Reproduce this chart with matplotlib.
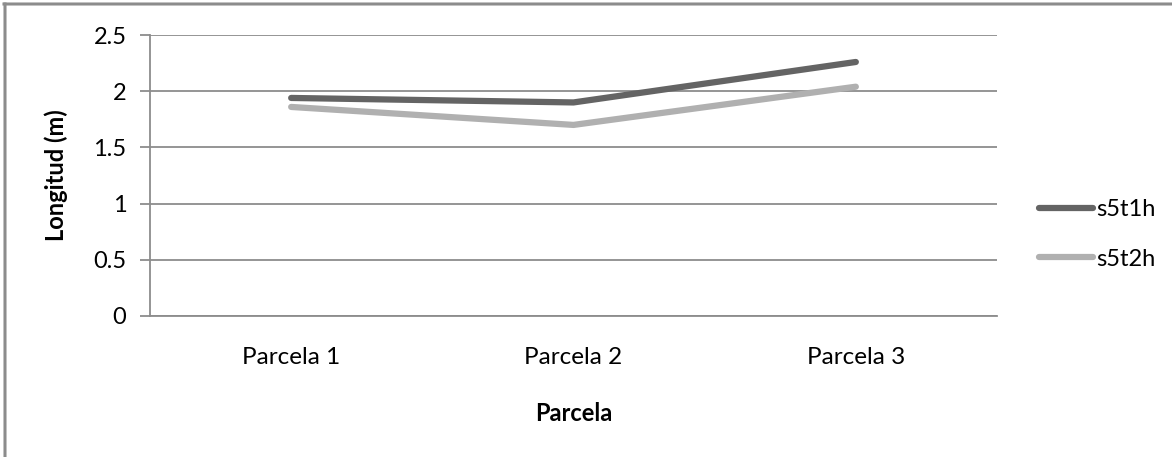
import matplotlib
matplotlib.use("Agg")
from matplotlib import pyplot as plt
from matplotlib.lines import Line2D
from matplotlib.transforms import IdentityTransform

# longitud media por parcela
parcelas = ["Parcela 1", "Parcela 2", "Parcela 3"]
s5t1h = [1.94, 1.90, 2.26]
s5t2h = [1.86, 1.70, 2.04]
y_ticks = [0, 0.5, 1, 1.5, 2, 2.5]
y_tick_labels = ["0", "0.5", "1", "1.5", "2", "2.5"]

plt.rcParams['font.family'] = ['Lato', 'DejaVu Sans']

W, H = 1172, 457
fig = plt.figure(figsize=(W / 100, H / 100), dpi=100)
ax = fig.add_axes([150 / W, 1 - 316 / H, 847 / W, 281 / H])

x = list(range(len(parcelas)))
ax.plot(x, s5t1h, color='#646464', linewidth=4.5, solid_capstyle='round', label='s5t1h')
ax.plot(x, s5t2h, color='#b0b0b0', linewidth=4.5, solid_capstyle='round', label='s5t2h')

ax.set_xlim(-0.5, 2.5)
ax.set_ylim(0, 2.5)
ax.set_yticks(y_ticks)
ax.set_yticklabels(y_tick_labels)
ax.set_xticks(x)
ax.set_xticklabels(parcelas)
ax.yaxis.grid(True, color='#8c8c8c', linewidth=1.3)
ax.set_axisbelow(True)

for side in ['top', 'right']:
    ax.spines[side].set_visible(False)
ax.spines['left'].set_color('#8c8c8c')
ax.spines['left'].set_linewidth(1.3)
ax.spines['bottom'].set_color('#8c8c8c')
ax.spines['bottom'].set_linewidth(1.3)
ax.tick_params(axis='y', length=7, width=1.3, color='#8c8c8c', labelsize=17, pad=10)
ax.tick_params(axis='x', length=0, labelsize=17.5, pad=22)

ax.set_ylabel('Longitud (m)', fontsize=17, fontweight='bold')
ax.yaxis.set_label_coords(-0.097, 0.5)
ax.set_xlabel('Parcela', fontsize=17, fontweight='bold', labelpad=25)

ax.legend(loc='center left', bbox_to_anchor=(1.049, 0.29), frameon=False,
          fontsize=17, handlelength=2.3, handletextpad=0.15, labelspacing=1.2,
          borderaxespad=0, borderpad=0)

# chart frame in pixels: left edge and top edge
frame = dict(transform=IdentityTransform(), color='#8c8c8c', linewidth=2.2, snap=False)
fig.add_artist(Line2D([5, 5], [0, H - 4], **frame))
fig.add_artist(Line2D([4, W], [H - 4, H - 4], **frame))

fig.savefig('out.png', dpi=100, facecolor='white')
